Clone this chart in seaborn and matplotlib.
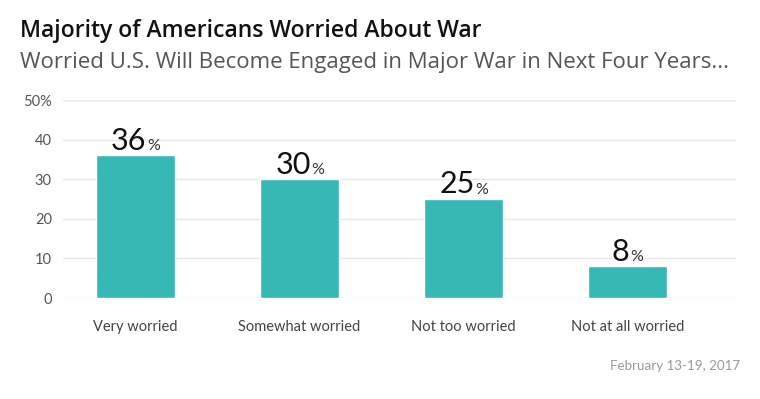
import matplotlib
matplotlib.use("Agg")
import matplotlib.pyplot as plt
import seaborn as sns
import pandas as pd

# chart data
categories = ["Very worried", "Somewhat worried", "Not too worried", "Not at all worried"]
values = [36, 30, 25, 8]
y_ticks = [0, 10, 20, 30, 40, 50]
y_tick_labels = ["0", "10", "20", "30", "40", "50%"]

title = "Majority of Americans Worried About War"
subtitle = "Worried U.S. Will Become Engaged in Major War in Next Four Years..."
date_note = "February 13-19, 2017"

df = pd.DataFrame({"category": categories, "value": values})

sns.set_style("white")
plt.rcParams["font.family"] = ["Lato", "DejaVu Sans"]

fig = plt.figure(figsize=(7.6, 3.99), dpi=100)
ax = fig.add_axes([63 / 760, 101 / 399, (736 - 63) / 760, 198 / 399])

sns.barplot(data=df, x="category", y="value", color="#36b8b5", saturation=1,
            width=0.48, ax=ax, zorder=3)

ax.set_ylim(0, 50)
ax.set_xlim(-0.44, 3.66)
ax.set_yticks(y_ticks)
ax.set_yticklabels(y_tick_labels)
ax.set_xlabel("")
ax.set_ylabel("")
ax.grid(axis="y", color="#e8e8e8", linewidth=1, zorder=0)
for s in ax.spines.values():
    s.set_visible(False)
ax.tick_params(axis="y", length=0, pad=8, labelsize=10.5, labelcolor="#555555")
ax.tick_params(axis="x", length=12, width=1, color="#e8e8e8", pad=4,
               labelsize=10.5, labelcolor="#444444")

# value labels: big number + small percent sign
for i, v in enumerate(values):
    nd = len(str(v))
    shift = (nd * 13.5 - 9.5) / 2  # points
    ax.annotate(str(v), (i, v), xytext=(shift - 0.6, 0.5), textcoords="offset points",
                ha="right", va="bottom", fontsize=22, color="#111111")
    ax.annotate("%", (i, v), xytext=(shift - 0.4, 1.5), textcoords="offset points",
                ha="left", va="bottom", fontsize=11.5, color="#333333")

fig.text(20 / 760, 1 - 37 / 399, title, fontsize=16.5, fontweight="semibold",
         color="#111111", va="baseline", family=["Open Sans", "DejaVu Sans"])
fig.text(20 / 760, 1 - 68 / 399, subtitle, fontsize=16, color="#555555",
         va="baseline", family=["Open Sans", "DejaVu Sans"])
fig.text(740 / 760, 1 - 370 / 399, date_note, fontsize=9.6, color="#999999",
         ha="right", va="baseline")

fig.savefig("out.png", dpi=100)
